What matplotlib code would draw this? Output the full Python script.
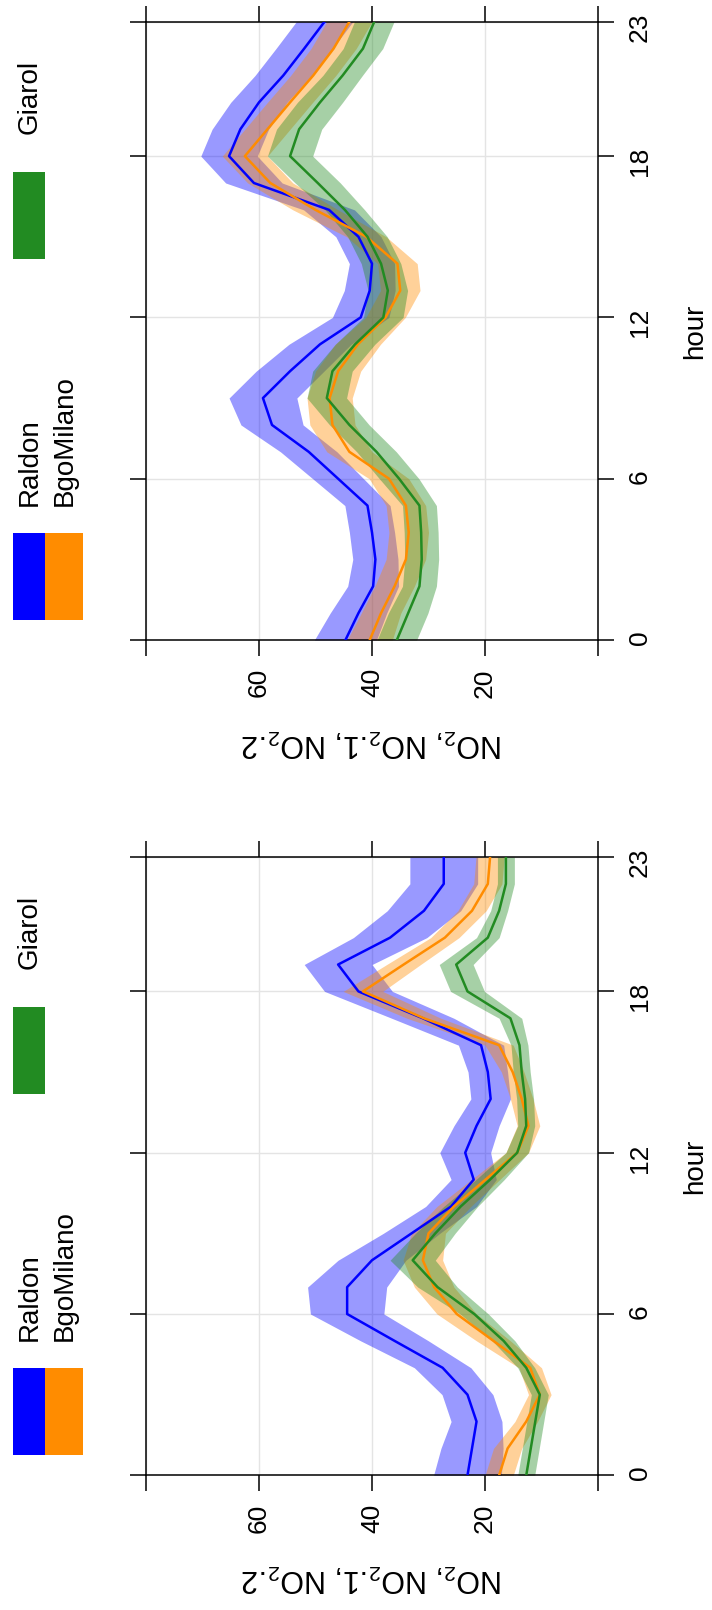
"""Hourly NO2 profiles for three sites, two periods (figure is drawn turned on its side)."""

import matplotlib
matplotlib.use("Agg")
import matplotlib.pyplot as plt
from matplotlib.patches import Rectangle

plt.rcParams["font.family"] = ["Liberation Sans", "DejaVu Sans"]
plt.rcParams["mathtext.fontset"] = "custom"
plt.rcParams["mathtext.rm"] = "Liberation Sans"
plt.rcParams["mathtext.default"] = "regular"

W, H = 712, 1610

hours = list(range(24))
hour_ticks = [0, 6, 12, 18, 23]
no2_ticks = [0, 20, 40, 60, 80]
no2_labels = ["", "20", "40", "60", ""]
sites = ["Raldon", "BgoMilano", "Giarol"]
colors = ["#0000FF", "#FF8C00", "#228B22"]

# upper panel: mean and half width of the confidence band
raldon_top = [44.7, 42.4, 39.8, 39.4, 40.0, 40.8, 46.0, 51.2, 57.7, 59.3, 54.5, 49.2,
              42.0, 40.4, 40.0, 42.4, 47.6, 60.9, 65.3, 63.3, 60.0, 55.7, 52.0, 48.4]
raldon_top_ci = [5.5, 5.0, 4.5, 4.0, 4.0, 4.0, 4.5, 5.0, 5.5, 6.0, 6.0, 5.5,
                 5.0, 4.5, 4.0, 4.0, 4.5, 5.0, 5.0, 5.0, 5.0, 5.0, 5.0, 5.0]
bgomilano_top = [40.4, 38.4, 36.0, 34.0, 33.5, 34.0, 37.0, 44.0, 47.0, 47.5, 46.0, 42.5,
                 37.6, 35.0, 35.5, 41.0, 50.0, 58.0, 62.5, 58.5, 54.5, 50.4, 46.8, 44.0]
bgomilano_top_ci = [4.0, 3.5, 3.5, 3.5, 3.5, 3.5, 3.5, 4.0, 4.0, 4.0, 4.0, 4.0,
                    3.5, 3.5, 3.5, 3.5, 4.0, 4.0, 4.0, 4.0, 4.0, 4.0, 4.0, 4.0]
giarol_top = [35.6, 33.6, 31.6, 31.2, 31.3, 31.6, 35.2, 39.2, 44.0, 48.0, 47.0, 43.0,
              38.0, 37.2, 38.4, 40.8, 44.8, 49.6, 54.5, 52.9, 49.2, 45.2, 41.6, 39.6]
giarol_top_ci = [3.5, 3.5, 3.0, 3.0, 3.0, 3.0, 3.5, 3.5, 3.5, 3.5, 3.5, 3.5,
                 3.5, 3.5, 3.5, 3.5, 3.5, 4.0, 4.0, 4.0, 4.0, 3.5, 3.5, 3.5]

# lower panel
raldon_bot = [23.1, 22.3, 21.5, 23.1, 27.5, 36.0, 44.4, 44.4, 40.0, 33.0, 26.0, 22.0,
              23.5, 21.5, 19.0, 19.5, 20.7, 31.0, 42.4, 46.0, 36.8, 30.8, 27.3, 27.3]
raldon_bot_ci = [6.0, 5.5, 4.5, 4.5, 5.0, 6.0, 6.5, 7.0, 6.0, 5.0, 4.5, 4.0,
                 4.5, 4.0, 3.5, 3.5, 4.0, 5.5, 6.0, 6.0, 6.5, 6.5, 6.0, 6.0]
bgomilano_bot = [17.5, 16.0, 12.7, 10.3, 12.0, 18.5, 25.0, 29.0, 31.0, 30.0, 25.5, 19.9,
                 14.3, 12.3, 13.5, 15.1, 17.5, 30.8, 41.6, 34.4, 27.1, 22.3, 19.5, 19.1]
bgomilano_bot_ci = [2.5, 2.5, 2.0, 2.0, 2.0, 3.0, 3.5, 3.5, 3.5, 3.0, 3.0, 2.5,
                    2.0, 2.0, 2.0, 2.0, 2.5, 3.0, 3.5, 3.0, 2.5, 2.5, 2.5, 2.5]
giarol_bot = [12.7, 11.9, 11.1, 10.3, 12.7, 16.7, 21.9, 28.4, 32.8, 28.8, 24.3, 19.1,
              14.3, 12.7, 12.9, 13.5, 13.9, 15.5, 23.1, 25.1, 19.5, 17.5, 16.3, 16.3]
giarol_bot_ci = [1.5, 1.5, 1.5, 1.5, 1.5, 2.0, 2.5, 3.5, 4.0, 3.5, 3.0, 2.5,
                 2.0, 1.5, 1.5, 1.5, 1.5, 2.0, 3.0, 3.0, 2.0, 1.5, 1.5, 1.5]


def draw_panel(ax, series):
    for mean, ci, color in series:
        lo = [m - c for m, c in zip(mean, ci)]
        hi = [m + c for m, c in zip(mean, ci)]
        ax.fill_betweenx(hours, lo, hi, color=color, alpha=0.4, lw=0, zorder=2)
    for mean, ci, color in series:
        ax.plot(mean, hours, color=color, lw=1.8, zorder=3)

    ax.set_xlim(80, 0)
    ax.set_ylim(0, 23)
    ax.set_xticks(no2_ticks)
    ax.set_xticklabels(no2_labels)
    ax.set_yticks(hour_ticks)
    ax.tick_params(axis="x", direction="out", length=11.5, width=1.1,
                   top=True, bottom=True, labelrotation=90, labelsize=19, pad=8.8)
    ax.tick_params(axis="y", direction="out", length=11.5, width=1.1,
                   left=True, right=True, labelleft=False, labelright=True,
                   labelrotation=90, labelsize=19, pad=9.8)
    ax.grid(True, color="#E4E4E4", lw=1)
    ax.set_axisbelow(True)
    for s in ax.spines.values():
        s.set_linewidth(1.1)

    ax.set_xlabel("NO$_2$, NO$_2$.1, NO$_2$.2", fontsize=22, rotation=180)
    ax.xaxis.set_label_coords(0.5, -0.14)
    ax.yaxis.set_label_position("right")
    ax.set_ylabel("hour", fontsize=20, rotation=90)
    ax.yaxis.set_label_coords(1.187, 0.5)


def draw_key(fig, top):
    # key boxes and names, positions in pixels from the top of the panel
    boxes = [(13, 45, 511), (45, 83, 511), (13, 45, 150)]
    for (x0, x1, y0), color in zip(boxes, colors):
        fig.add_artist(Rectangle((x0 / W, 1 - (top + y0 + 87) / H), (x1 - x0) / W, 87 / H,
                                 transform=fig.transFigure, color=color, lw=0))
    names = [(30, 484), (65, 484), (30, 112)]
    for (x, y), name in zip(names, sites):
        fig.text(x / W, 1 - (top + y) / H, name, rotation=90, fontsize=20,
                 ha="center", va="bottom")


fig = plt.figure(figsize=(W / 100, H / 100), dpi=100)

panel_h = 618.3
for top, data in [
    (21.7, [(raldon_top, raldon_top_ci, colors[0]),
            (bgomilano_top, bgomilano_top_ci, colors[1]),
            (giarol_top, giarol_top_ci, colors[2])]),
    (857.0, [(raldon_bot, raldon_bot_ci, colors[0]),
             (bgomilano_bot, bgomilano_bot_ci, colors[1]),
             (giarol_bot, giarol_bot_ci, colors[2])]),
]:
    ax = fig.add_axes([146 / W, 1 - (top + panel_h) / H, 452 / W, panel_h / H])
    draw_panel(ax, data)
    draw_key(fig, top)

fig.savefig("out.png", dpi=100)
